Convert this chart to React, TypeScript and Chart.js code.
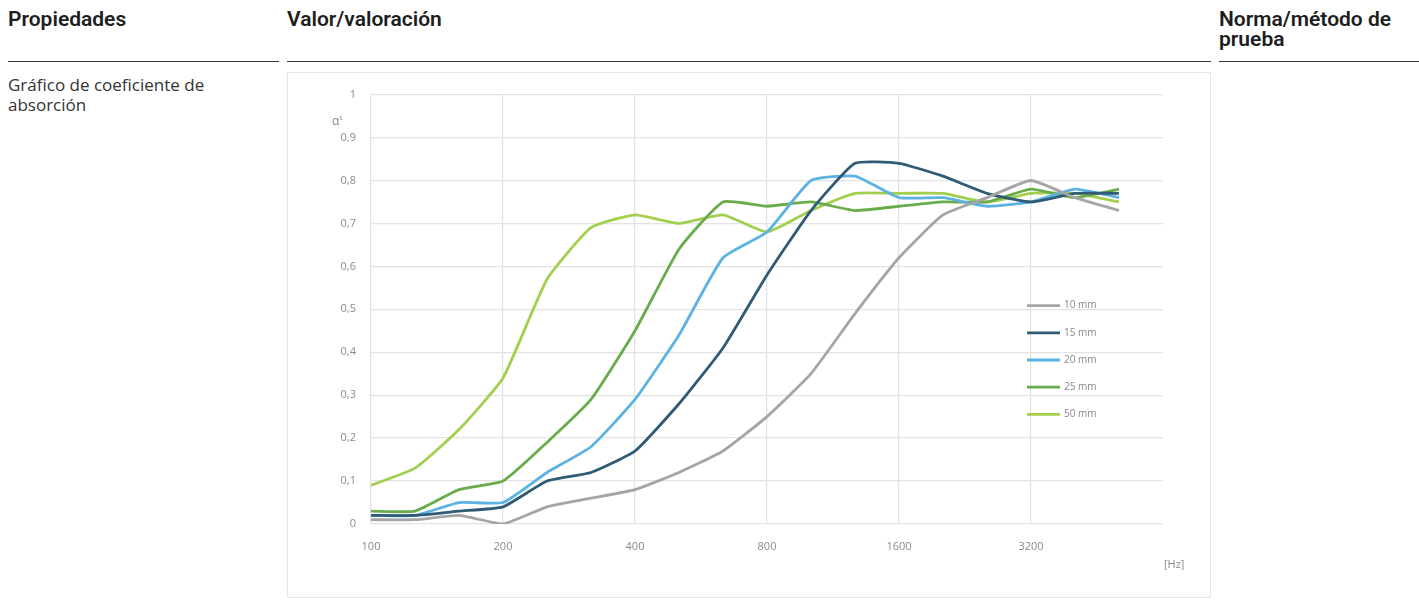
import React, { useEffect, useRef } from 'react';
import { Chart, registerables } from 'chart.js';

Chart.register(...registerables);

// Third-octave band centre frequencies (Hz), as labelled on the chart
const frequencies = ['100', '125', '160', '200', '250', '315', '400', '500', '630', '800', '1000', '1250', '1600', '2000', '2500', '3200', '4000', '5000'];

const seriesLabels = ['10 mm', '15 mm', '20 mm', '25 mm', '50 mm'];
const seriesColors = ['#a5a5a5', '#2f5b74', '#5cb2e2', '#6aab4b', '#a3cf4f'];

const values10 = [0.01, 0.01, 0.02, 0.0, 0.04, 0.06, 0.08, 0.12, 0.17, 0.25, 0.35, 0.49, 0.62, 0.72, 0.76, 0.8, 0.76, 0.73];
const values15 = [0.02, 0.02, 0.03, 0.04, 0.1, 0.12, 0.17, 0.28, 0.41, 0.58, 0.73, 0.84, 0.84, 0.81, 0.77, 0.75, 0.77, 0.77];
const values20 = [0.02, 0.02, 0.05, 0.05, 0.12, 0.18, 0.29, 0.44, 0.62, 0.68, 0.8, 0.81, 0.76, 0.76, 0.74, 0.75, 0.78, 0.76];
const values25 = [0.03, 0.03, 0.08, 0.1, 0.19, 0.29, 0.45, 0.64, 0.75, 0.74, 0.75, 0.73, 0.74, 0.75, 0.75, 0.78, 0.76, 0.78];
const values50 = [0.09, 0.13, 0.22, 0.34, 0.57, 0.69, 0.72, 0.7, 0.72, 0.68, 0.73, 0.77, 0.77, 0.77, 0.75, 0.77, 0.77, 0.75];

const allValues = [values10, values15, values20, values25, values50];

const yTickLabels = ['0', '0,1', '0,2', '0,3', '0,4', '0,5', '0,6', '0,7', '0,8', '0,9', '1'];

const FONT = "'Open Sans', 'DejaVu Sans', sans-serif";

const legendPlugin = {
  id: 'insideLegend',
  afterDatasetsDraw(chart: any) {
    const { ctx, chartArea } = chart;
    const x0 = chartArea.right - 136;
    const y0 = chartArea.top + 211;
    ctx.save();
    chart.data.datasets.forEach((ds: any, i: number) => {
      const y = y0 + i * 27.2;
      ctx.strokeStyle = ds.borderColor;
      ctx.lineWidth = 2.8;
      ctx.beginPath();
      ctx.moveTo(x0, y);
      ctx.lineTo(x0 + 33, y);
      ctx.stroke();
      ctx.fillStyle = '#888888';
      ctx.font = `10px ${FONT}`;
      ctx.textBaseline = 'middle';
      ctx.textAlign = 'left';
      ctx.fillText(ds.label, x0 + 37, y);
    });
    ctx.restore();
  },
};

function AbsorptionChart() {
  const ref = useRef<HTMLCanvasElement | null>(null);
  useEffect(() => {
    if (!ref.current) return;
    const chart = new Chart(ref.current, {
      type: 'line',
      data: {
        datasets: allValues.map((vals, i) => ({
          label: seriesLabels[i],
          data: vals.map((v, k) => ({ x: k, y: v })),
          borderColor: seriesColors[i],
          backgroundColor: seriesColors[i],
          borderWidth: 2.8,
          pointRadius: 0,
          tension: 0.15,
          fill: false,
        })),
      },
      options: {
        animation: false,
        responsive: false,
        maintainAspectRatio: false,
        layout: { padding: { left: 0, top: 16, right: 47, bottom: 0 } },
        plugins: { legend: { display: false }, tooltip: { enabled: false } },
        scales: {
          x: {
            type: 'linear',
            min: 0,
            max: 18,
            afterFit: (s: any) => { s.height = 73; },
            border: { display: false },
            grid: {
              color: (c: any) => (c.tick && c.tick.value === 18 ? 'rgba(0,0,0,0)' : '#e3e3e3'),
              lineWidth: 1.3,
              drawTicks: false,
            },
            ticks: {
              stepSize: 3,
              autoSkip: false,
              maxRotation: 0,
              padding: 16,
              color: '#8a8a8a',
              font: { size: 11, family: FONT },
              callback: (v: any) => frequencies[v as number] ?? '',
            },
          },
          y: {
            min: 0,
            max: 1,
            afterFit: (s: any) => { s.width = 83; },
            border: { display: false },
            grid: { color: '#e3e3e3', lineWidth: 1.3, drawTicks: false },
            ticks: {
              stepSize: 0.1,
              padding: 15,
              color: '#8a8a8a',
              font: { size: 11, family: FONT },
              callback: (v: any, idx: number) => yTickLabels[idx] ?? '',
            },
          },
        },
      },
      plugins: [legendPlugin],
    } as any);
    return () => chart.destroy();
  }, []);
  return <canvas ref={ref} width={922} height={524} style={{ position: 'absolute', left: 0, top: 0, width: 922, height: 524 }} />;
}

const headStyle: React.CSSProperties = {
  position: 'absolute',
  fontFamily: "Roboto, 'Open Sans', sans-serif",
  fontWeight: 600,
  fontSize: 21,
  lineHeight: '20px',
  color: '#1e1e1e',
  margin: 0,
};

const ruleStyle = (left: number, width: number): React.CSSProperties => ({
  position: 'absolute',
  left,
  top: 61,
  width,
  height: 1,
  background: '#3c3c3c',
});

export default function App() {
  return (
    <div style={{ position: 'absolute', left: 0, top: 0, width: 1419, height: 606, background: '#ffffff', overflow: 'hidden' }}>
      <div style={{ ...headStyle, left: 8, top: 9 }}>Propiedades</div>
      <div style={{ ...headStyle, left: 287, top: 9 }}>Valor/valoración</div>
      <div style={{ ...headStyle, left: 1219, top: 9, width: 200 }}>Norma/método de<br />prueba</div>
      <div style={ruleStyle(8, 271)} />
      <div style={ruleStyle(287, 924)} />
      <div style={ruleStyle(1219, 200)} />
      <div style={{ position: 'absolute', left: 8, top: 75, fontFamily: "'Open Sans', sans-serif", fontSize: 17, lineHeight: '20px', color: '#333333' }}>
        Gráfico de coeficiente de<br />absorción
      </div>
      <div style={{ position: 'absolute', left: 287, top: 72, width: 922, height: 524, border: '1px solid #e6e6e6', background: '#ffffff' }}>
        <AbsorptionChart />
        <div style={{ position: 'absolute', left: 44, top: 42, fontFamily: FONT, fontSize: 12, color: '#8a8a8a', lineHeight: '12px' }}>
          α<sup style={{ fontSize: 7, verticalAlign: 'super', lineHeight: 0 }}>s</sup>
        </div>
        <div style={{ position: 'absolute', left: 876, top: 483, fontFamily: FONT, fontSize: 11, color: '#8a8a8a' }}>[Hz]</div>
      </div>
    </div>
  );
}
